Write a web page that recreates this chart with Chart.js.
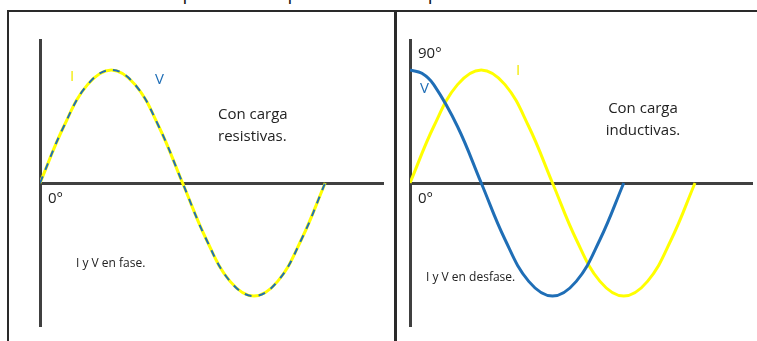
<!DOCTYPE html>
<html>
<head>
<meta charset="utf-8">
<script src="https://cdn.jsdelivr.net/npm/chart.js@4"></script>
<style>
  html, body { margin: 0; padding: 0; background: #fff; overflow: hidden; }
  body { width: 757px; height: 341px; position: relative; font-family: "Open Sans", sans-serif; color: #222; }
  canvas { position: absolute; }
  .lbl { position: absolute; white-space: nowrap; line-height: 22px; font-size: 15px; }
  .small { font-size: 12px; }
  .frame { position: absolute; background: #2a2a2a; }
  .topline { position: absolute; left: 0; top: -18px; height: 22px; width: 757px; overflow: hidden; font-size: 19px; line-height: 22px; color: #111; white-space: nowrap; }
</style>
</head>
<body>
<div class="topline">es caso de corriente presado de por el factor de potencia en circuitos</div>
<div class="frame" style="left:7px; top:10px; width:2px; height:331px;"></div>
<div class="frame" style="left:7px; top:10px; width:750px; height:2px;"></div>
<div class="frame" style="left:394px; top:10px; width:3px; height:331px;"></div>

<canvas id="left" width="363" height="306" style="left:30px; top:30px;"></canvas>
<canvas id="right" width="362" height="306" style="left:400px; top:30px;"></canvas>

<!-- left panel texts -->
<div class="lbl" style="left:70px; top:64px; color:#f2ea00;">I</div>
<div class="lbl" style="left:155px; top:67px; color:#1f6eb6;">V</div>
<div class="lbl" style="left:218px; top:102px;">Con carga<br>resistivas.</div>
<div class="lbl" style="left:48px; top:186px;">0°</div>
<div class="lbl small" style="left:76px; top:252px;">I y V en fase.</div>

<!-- right panel texts -->
<div class="lbl" style="left:418px; top:41px;">90°</div>
<div class="lbl" style="left:420px; top:76px; color:#1f6eb6;">V</div>
<div class="lbl" style="left:516px; top:58px; color:#f2ea00;">I</div>
<div class="lbl" style="left:583px; top:96px; width:120px; text-align:center;">Con carga<br>inductivas.</div>
<div class="lbl" style="left:418px; top:186px;">0°</div>
<div class="lbl small" style="left:426px; top:266px;">I y V en desfase.</div>

<script>
// angles in degrees, values relative to the peak
const angles = [0, 30, 60, 90, 120, 150, 180, 210, 240, 270, 300, 330, 360];
const currentResistive = [0, 0.5, 0.87, 1, 0.87, 0.5, 0, -0.5, -0.87, -1, -0.87, -0.5, 0];
const voltageResistive = [0, 0.5, 0.87, 1, 0.87, 0.5, 0, -0.5, -0.87, -1, -0.87, -0.5, 0];
const currentInductive = [0, 0.5, 0.87, 1, 0.87, 0.5, 0, -0.5, -0.87, -1, -0.87, -0.5, 0];
const voltageInductiveAngles = [0, 15, 30, 60, 90, 120, 150, 180, 210, 240, 270];
const voltageInductive = [1, 0.97, 0.87, 0.5, 0, -0.5, -0.87, -1, -0.87, -0.5, 0];

const YELLOW = '#ffff00';
const BLUE = '#1f6eb6';
const AXIS = '#404040';

function pts(xs, ys) {
  return xs.map((x, i) => ({ x: x, y: ys[i] }));
}

function makeChart(id, xMax, datasets) {
  return new Chart(document.getElementById(id), {
    type: 'line',
    data: { datasets: datasets },
    options: {
      responsive: false,
      animation: false,
      events: [],
      layout: { padding: 10 },
      elements: { point: { radius: 0 }, line: { tension: 0.4 } },
      plugins: { legend: { display: false }, tooltip: { enabled: false } },
      scales: {
        x: {
          type: 'linear',
          min: 0,
          max: xMax,
          position: { y: 0 },
          grid: { display: false, drawTicks: false },
          ticks: { display: false },
          border: { display: true, color: AXIS, width: 3 },
        },
        y: {
          min: -1.265,
          max: 1.265,
          grid: { display: false, drawTicks: false },
          ticks: { display: false },
          border: { display: true, color: AXIS, width: 3 },
          afterFit: (scale) => { scale.width = 0; },
        },
      },
    },
  });
}

makeChart('left', 433, [
  {
    label: 'V',
    data: pts(angles, voltageResistive),
    borderColor: BLUE,
    borderWidth: 2,
    borderDash: [7, 7],
    order: 0,
  },
  {
    label: 'I',
    data: pts(angles, currentResistive),
    borderColor: YELLOW,
    borderWidth: 3,
    order: 1,
  },
]);

makeChart('right', 432, [
  {
    label: 'V',
    data: pts(voltageInductiveAngles, voltageInductive),
    borderColor: BLUE,
    borderWidth: 3,
    order: 0,
  },
  {
    label: 'I',
    data: pts(angles, currentInductive),
    borderColor: YELLOW,
    borderWidth: 3,
    order: 1,
  },
]);
</script>
</body>
</html>
